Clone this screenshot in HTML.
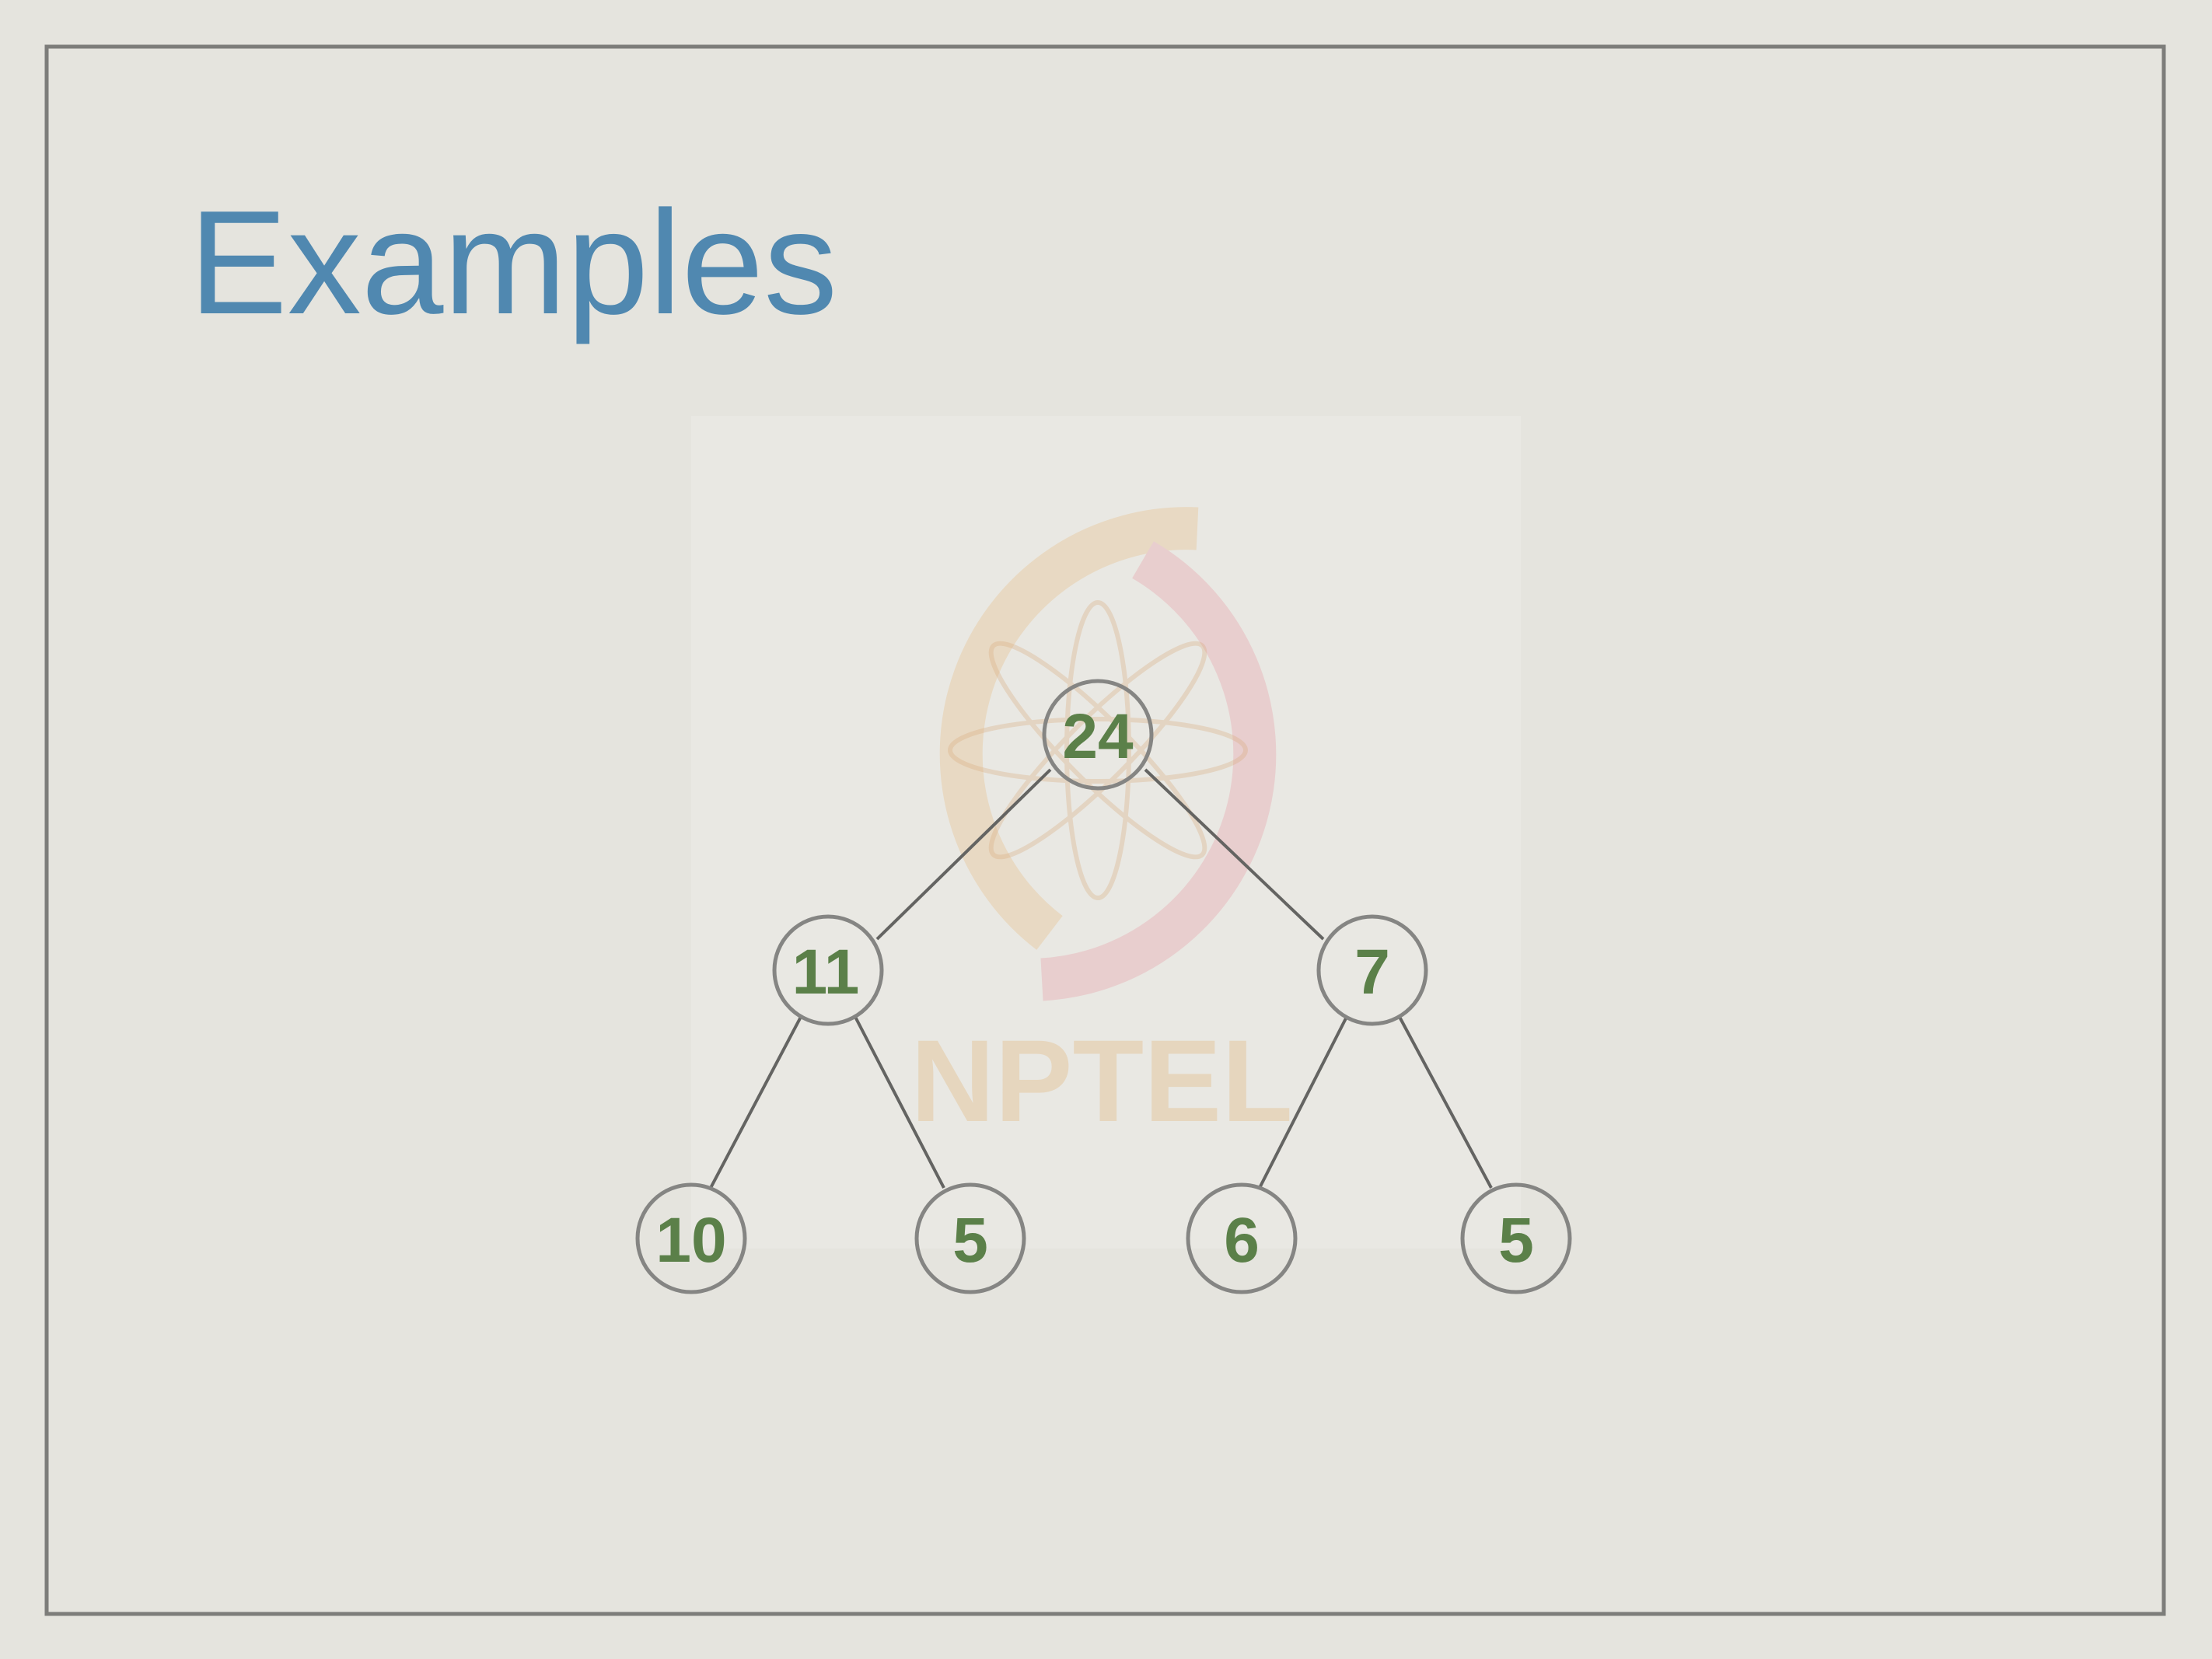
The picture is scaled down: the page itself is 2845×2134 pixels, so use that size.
<!DOCTYPE html>
<html><head><meta charset="utf-8"><style>
html,body{margin:0;padding:0;background:#e5e4de;}
body{width:2845px;height:2134px;position:relative;overflow:hidden;}
</style></head><body>
<svg width="2845" height="2134" viewBox="0 0 2845 2134" xmlns="http://www.w3.org/2000/svg" style="position:absolute;left:0;top:0">
<rect x="0" y="0" width="2845" height="2134" fill="#e5e4de"/>
<rect x="889" y="535" width="1067" height="1071" fill="#e9e8e3"/>
<g opacity="0.35" fill="none" stroke-width="55">
<path d="M1540 680 A290 290 0 0 0 1350 1200" stroke="#e8c08a"/>
<path d="M1470 720 A290 290 0 0 1 1340 1260" stroke="#e8a0a8"/>
</g>
<g opacity="0.3" fill="none" stroke="#d8a878" stroke-width="6">
<ellipse cx="1412" cy="965" rx="40" ry="190"/>
<ellipse cx="1412" cy="965" rx="190" ry="40"/>
<ellipse cx="1412" cy="965" rx="40" ry="190" transform="rotate(45 1412 965)"/>
<ellipse cx="1412" cy="965" rx="40" ry="190" transform="rotate(-45 1412 965)"/>
</g>
<text x="1417" y="1442" text-anchor="middle" font-family="Liberation Sans, sans-serif" font-weight="bold" font-size="150" fill="#e6d2b6" opacity="0.8">NPTEL</text>
<rect x="60" y="60" width="2723" height="2016" fill="none" stroke="#7d7d7a" stroke-width="5"/>
<text x="243" y="403" font-family="Liberation Sans, sans-serif" font-size="190" fill="#5088b0">Examples</text>
<g stroke="#646462" stroke-width="4">
<line x1="1351" y1="990" x2="1128" y2="1208"/>
<line x1="1473" y1="990" x2="1702" y2="1208"/>
<line x1="1030" y1="1308" x2="914" y2="1528"/>
<line x1="1100" y1="1308" x2="1214" y2="1528"/>
<line x1="1732" y1="1308" x2="1620" y2="1528"/>
<line x1="1800" y1="1308" x2="1918" y2="1528"/>
</g>
<g fill="none" stroke="#858583" stroke-width="5">
<circle cx="1412" cy="945" r="69"/>
<circle cx="1065" cy="1248" r="69"/>
<circle cx="1765" cy="1248" r="69"/>
<circle cx="889" cy="1593" r="69"/>
<circle cx="1248" cy="1593" r="69"/>
<circle cx="1597" cy="1593" r="69"/>
<circle cx="1950" cy="1593" r="69"/>
</g>
<g font-family="Liberation Sans Narrow, Liberation Sans, sans-serif" font-weight="bold" font-size="82" fill="#5b8049" text-anchor="middle">
<text x="1412" y="975">24</text>
<text x="1062" y="1278">11</text>
<text x="1765" y="1278">7</text>
<text x="889" y="1623">10</text>
<text x="1248" y="1623">5</text>
<text x="1597" y="1623">6</text>
<text x="1950" y="1623">5</text>
</g>
</svg>
</body></html>
